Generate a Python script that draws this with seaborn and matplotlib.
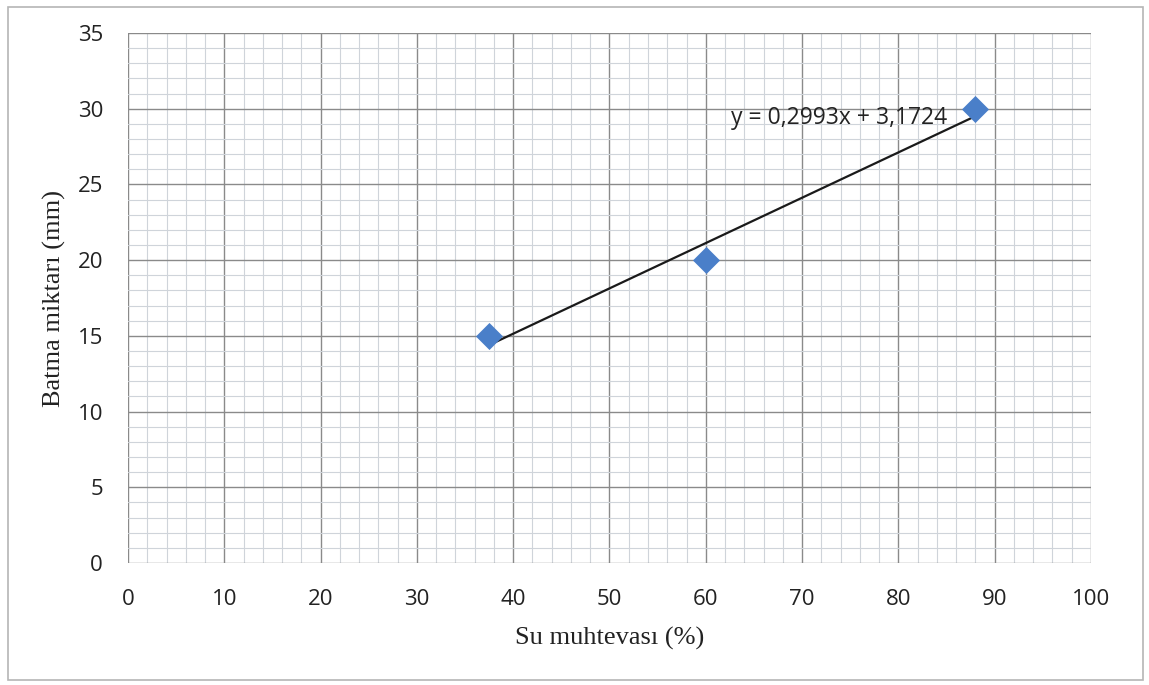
import matplotlib
matplotlib.use("Agg")
import matplotlib.pyplot as plt
from matplotlib.patches import Rectangle
from matplotlib.ticker import MultipleLocator
import numpy as np
import pandas as pd
import seaborn as sns

# Measured points
su_muhtevasi = [37.5, 60.0, 88.0]
batma_miktari = [15.0, 20.0, 30.0]

# Linear trendline coefficients
egim = 0.2993
kesim = 3.1724

x_ticks = [0, 10, 20, 30, 40, 50, 60, 70, 80, 90, 100]
y_ticks = [0, 5, 10, 15, 20, 25, 30, 35]

sns.set_theme(style="white")
plt.rcParams["font.family"] = ["Open Sans", "DejaVu Sans"]

df = pd.DataFrame({"x": su_muhtevasi, "y": batma_miktari})

fig = plt.figure(figsize=(11.49, 6.85), dpi=100)
fig.patch.set_facecolor("white")
fig.patches.append(Rectangle((0.007, 0.008), 0.988, 0.982, transform=fig.transFigure,
                             fill=False, edgecolor="#b5b5b5", linewidth=1.2))
ax = fig.add_axes([0.1114, 0.178, 0.8381, 0.7738])

ax.set_xlim(0, 100)
ax.set_ylim(0, 35)
ax.set_xticks(x_ticks)
ax.set_yticks(y_ticks)
ax.xaxis.set_minor_locator(MultipleLocator(2))
ax.yaxis.set_minor_locator(MultipleLocator(1))
ax.grid(which="major", color="#8a8a8a", linewidth=1.0)
ax.grid(which="minor", color="#cfd4da", linewidth=0.8)
ax.set_axisbelow(True)
for s in ax.spines.values():
    s.set_visible(False)
ax.tick_params(axis="both", which="major", direction="out", length=5, width=1,
               color="#8a8a8a", labelsize=16, labelcolor="#222222", pad=13)
ax.tick_params(axis="x", pad=14)
ax.tick_params(axis="both", which="minor", length=0)

# Trendline over the data range
xs = np.array([min(su_muhtevasi), max(su_muhtevasi)])
ax.plot(xs, egim * xs + kesim, color="#1a1a1a", linewidth=1.6, zorder=3)

sns.scatterplot(data=df, x="x", y="y", marker="D", s=190, color="#4a7fc9",
                edgecolor="#4a7fc9", linewidth=0, ax=ax, zorder=4)

ax.text(62.6, 29.4, f"y = {egim:.4f}x + {kesim:.4f}".replace(".", ","),
        fontsize=16.5, color="#222222", va="center", ha="left", zorder=5)

ax.set_xlabel("Su muhtevası (%)", family=["Liberation Serif", "DejaVu Serif"],
              fontsize=19, color="#222222", labelpad=12)
ax.set_ylabel("Batma miktarı (mm)", family=["Liberation Serif", "DejaVu Serif"],
              fontsize=19, color="#222222", labelpad=8)

fig.savefig("out.png", dpi=100, facecolor="white")
